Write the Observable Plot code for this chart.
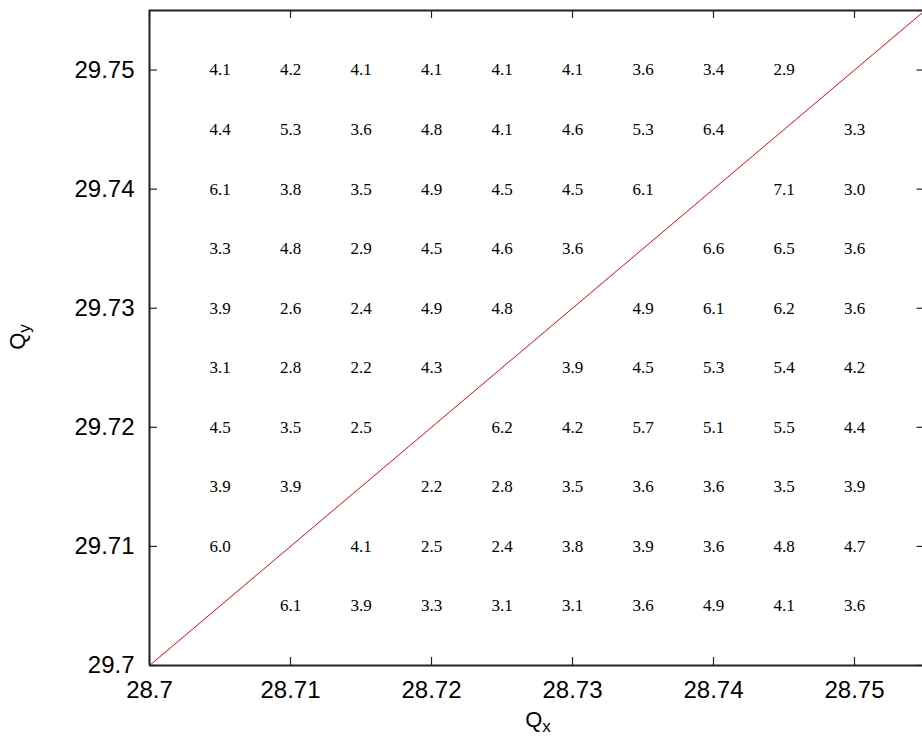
<!DOCTYPE html>
<html><head><meta charset="utf-8">
<script src="https://cdn.jsdelivr.net/npm/d3@7"></script>
<script src="https://cdn.jsdelivr.net/npm/@observablehq/plot@0.6"></script>
<style>body{margin:0;background:#fff;overflow:hidden} #chart svg{max-width:none}</style>
</head><body><div id="chart"></div>
<script>
const xTicks = [28.7, 28.71, 28.72, 28.73, 28.74, 28.75];
const yTicks = [29.7, 29.71, 29.72, 29.73, 29.74, 29.75];
const xDomain = [28.7, 28.755];
const yDomain = [29.7, 29.755];
const xCols = [28.705, 28.71, 28.715, 28.72, 28.725, 28.73, 28.735, 28.74, 28.745, 28.75];
const yRows = [29.75, 29.745, 29.74, 29.735, 29.73, 29.725, 29.72, 29.715, 29.71, 29.705];
const cellValues = [
  [4.1, 4.2, 4.1, 4.1, 4.1, 4.1, 3.6, 3.4, 2.9, null],
  [4.4, 5.3, 3.6, 4.8, 4.1, 4.6, 5.3, 6.4, null, 3.3],
  [6.1, 3.8, 3.5, 4.9, 4.5, 4.5, 6.1, null, 7.1, 3.0],
  [3.3, 4.8, 2.9, 4.5, 4.6, 3.6, null, 6.6, 6.5, 3.6],
  [3.9, 2.6, 2.4, 4.9, 4.8, null, 4.9, 6.1, 6.2, 3.6],
  [3.1, 2.8, 2.2, 4.3, null, 3.9, 4.5, 5.3, 5.4, 4.2],
  [4.5, 3.5, 2.5, null, 6.2, 4.2, 5.7, 5.1, 5.5, 4.4],
  [3.9, 3.9, null, 2.2, 2.8, 3.5, 3.6, 3.6, 3.5, 3.9],
  [6.0, null, 4.1, 2.5, 2.4, 3.8, 3.9, 3.6, 4.8, 4.7],
  [null, 6.1, 3.9, 3.3, 3.1, 3.1, 3.6, 4.9, 4.1, 3.6]
];
const cells = [];
yRows.forEach((y, i) => xCols.forEach((x, j) => {
  const v = cellValues[i][j];
  if (v != null) cells.push({x, y, v});
}));
const diag = xDomain.map(x => ({x, y: x + 1}));
const fmt = d => String(+d.toFixed(3));
const tickStyle = {stroke: "#222", strokeWidth: 1.2};
const frameStyle = {stroke: "#222", strokeWidth: 2};

const plot = Plot.plot({
  width: 922, height: 740,
  marginLeft: 149, marginRight: -2.5, marginTop: 10, marginBottom: 75,
  x: {domain: xDomain},
  y: {domain: yDomain},
  marks: [
    Plot.line(diag, {x: "x", y: "y", stroke: "red", strokeWidth: 1}),
    Plot.text(cells, {x: "x", y: "y", text: d => d.v.toFixed(1), fontFamily: "Liberation Serif", fontSize: 17, fill: "black"}),
    Plot.axisX({ticks: xTicks, tickSize: 0, tickPadding: 15, tickFormat: fmt, fontSize: 24, fontFamily: "Liberation Sans", fill: "black", label: null}),
    Plot.axisY({ticks: yTicks, tickSize: 0, tickPadding: 15, tickFormat: fmt, fontSize: 24, fontFamily: "Liberation Sans", fill: "black", label: null}),
    Plot.ruleX(xTicks, {x: d => d, y1: () => yDomain[0], y2: () => yDomain[0], insetTop: -8, ...tickStyle}),
    Plot.ruleX(xTicks, {x: d => d, y1: () => yDomain[1], y2: () => yDomain[1], insetBottom: -8, ...tickStyle}),
    Plot.ruleY(yTicks, {y: d => d, x1: () => xDomain[0], x2: () => xDomain[0], insetRight: -8, ...tickStyle}),
    Plot.ruleY(yTicks, {y: d => d, x1: () => xDomain[1], x2: () => xDomain[1], insetLeft: -8, ...tickStyle}),
    Plot.ruleX([xDomain[0]], {x: d => d, ...frameStyle}),
    Plot.ruleY(yDomain, {y: d => d, ...frameStyle})
  ]
});

const svg = d3.select(plot);
const qx = svg.append("text")
  .attr("x", 538).attr("y", 727)
  .attr("text-anchor", "middle")
  .attr("font-family", "Liberation Sans").attr("font-size", 22).attr("fill", "black");
qx.append("tspan").text("Q");
qx.append("tspan").attr("font-size", 17).attr("dy", 5).text("x");

const qy = svg.append("text")
  .attr("transform", "translate(25,337) rotate(-90)")
  .attr("text-anchor", "middle")
  .attr("font-family", "Liberation Sans").attr("font-size", 22).attr("fill", "black");
qy.append("tspan").text("Q");
qy.append("tspan").attr("font-size", 17).attr("dy", 5).text("y");

document.getElementById("chart").append(plot);
</script>
</body></html>
